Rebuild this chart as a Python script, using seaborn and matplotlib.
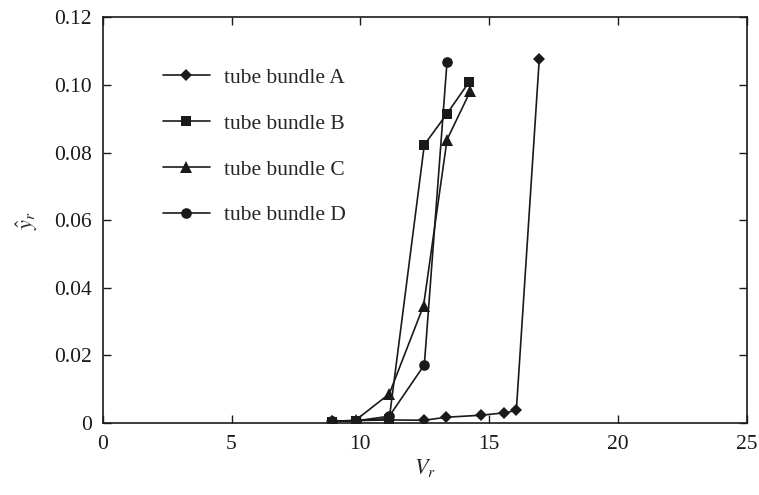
import matplotlib
matplotlib.use("Agg")
import matplotlib.pyplot as plt
import seaborn as sns
import pandas as pd

# Reduced velocity and response amplitude for each tube bundle
vr_a = [8.91, 9.81, 11.12, 12.48, 13.33, 14.69, 15.58, 16.05, 16.94]
y_a = [0.0005, 0.0007, 0.0009, 0.0008, 0.0017, 0.0023, 0.0030, 0.0037, 0.1077]

vr_b = [8.91, 9.81, 11.12, 12.48, 13.36, 14.22]
y_b = [0.0004, 0.0007, 0.0013, 0.0823, 0.0915, 0.1009]

vr_c = [8.91, 9.81, 11.12, 12.45, 13.36, 14.26]
y_c = [0.0005, 0.0008, 0.0086, 0.0347, 0.0838, 0.0981]

vr_d = [8.91, 9.81, 11.12, 12.48, 13.36]
y_d = [0.0005, 0.0006, 0.0020, 0.0172, 0.1068]

labels = ["tube bundle A", "tube bundle B", "tube bundle C", "tube bundle D"]
x_ticks = [0, 5, 10, 15, 20, 25]
y_ticks = [0, 0.02, 0.04, 0.06, 0.08, 0.10, 0.12]
y_tick_labels = ["0", "0.02", "0.04", "0.06", "0.08", "0.10", "0.12"]

sns.set_theme(style="ticks")
plt.rcParams["font.family"] = ["Liberation Serif", "DejaVu Serif"]
plt.rcParams["mathtext.fontset"] = "stix"

fig = plt.figure(figsize=(7.59, 4.95), dpi=100)
ax = fig.add_axes([0.1353, 0.1455, 0.8489, 0.8195])

series = [
    (labels[0], vr_a, y_a, "D", 7.5),
    (labels[1], vr_b, y_b, "s", 8.5),
    (labels[2], vr_c, y_c, "^", 9.5),
    (labels[3], vr_d, y_d, "o", 9.0),
]

for name, xs, ys, mk, ms in series:
    df = pd.DataFrame({"Vr": xs, "yr": ys})
    sns.lineplot(data=df, x="Vr", y="yr", ax=ax, color="#1a1a1a",
                 marker=mk, markersize=ms, markeredgewidth=0,
                 linewidth=1.2, label=name, sort=False, estimator=None)

ax.set_xlim(0, 25)
ax.set_ylim(0, 0.12)
ax.set_xticks(x_ticks)
ax.set_xticklabels([str(t) for t in x_ticks])
ax.set_yticks(y_ticks)
ax.set_yticklabels(y_tick_labels)
ax.tick_params(direction="in", length=6, width=1.0, colors="#1a1a1a",
               labelsize=15.5, top=True, right=True, pad=8)
ax.tick_params(axis="x", pad=9)
for sp in ax.spines.values():
    sp.set_visible(True)
    sp.set_linewidth(1.2)
    sp.set_color("#1a1a1a")

ax.set_xlabel(r"$V_r$", fontsize=16, labelpad=2)
ax.set_ylabel(r"$\hat{y}_r$", fontsize=16, labelpad=10)

handles, lbls = ax.get_legend_handles_labels()
for h in handles:
    h.set_markersize(h.get_markersize() * 0.85)
ax.legend(handles, lbls, loc="upper left", bbox_to_anchor=(0.093, 0.876),
          frameon=False, fontsize=15.5, handlelength=2.2, handletextpad=0.65,
          labelspacing=1.2, borderpad=0, borderaxespad=0)

fig.savefig("out.png", dpi=100)
